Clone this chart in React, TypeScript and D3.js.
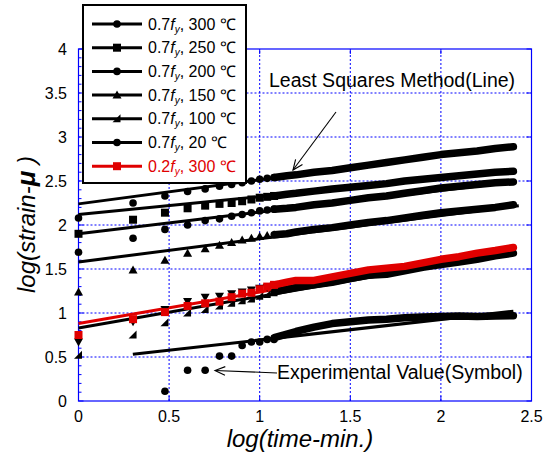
import React from 'react';
import * as d3 from 'd3';

// time (minutes) of the individually visible early readings
const earlyTimes = [1, 2, 3, 4, 5, 6, 7, 8, 9, 10, 11, 12];
// log(time) positions where the dense readings merge into a band
const bandLogT = [1.08, 1.15, 1.2, 1.3, 1.4, 1.5, 1.6, 1.7, 1.8, 1.9, 2.0, 2.1, 2.2, 2.3, 2.4];

const s300Early = [2.08, 2.25, 2.33, 2.38, 2.41, 2.44, 2.46, 2.48, 2.5, 2.52, 2.53, 2.54];
const s300Band = [2.54, 2.56, 2.57, 2.6, 2.62, 2.65, 2.68, 2.71, 2.74, 2.77, 2.8, 2.82, 2.84, 2.87, 2.89];
const s300Fit = [[0, 2.24], [2.4, 2.9]];

const s250Early = [1.9, 2.06, 2.14, 2.19, 2.22, 2.24, 2.25, 2.27, 2.29, 2.31, 2.32, 2.33];
const s250Band = [2.33, 2.35, 2.36, 2.385, 2.41, 2.43, 2.45, 2.47, 2.5, 2.52, 2.54, 2.56, 2.58, 2.6, 2.61];
const s250Fit = [[0, 2.12], [2.42, 2.61]];

const s200Early = [1.69, 1.85, 1.95, 2.0, 2.05, 2.07, 2.1, 2.12, 2.14, 2.16, 2.17, 2.18];
const s200Band = [2.18, 2.19, 2.2, 2.23, 2.25, 2.28, 2.31, 2.33, 2.36, 2.39, 2.42, 2.44, 2.46, 2.48, 2.49];
const s200Fit = [[0, 1.9], [2.4, 2.49]];

const s150Early = [1.24, 1.49, 1.6, 1.68, 1.73, 1.77, 1.8, 1.83, 1.85, 1.87, 1.88, 1.89];
const s150Band = [1.89, 1.9, 1.92, 1.95, 1.97, 2.0, 2.03, 2.05, 2.08, 2.11, 2.14, 2.16, 2.18, 2.2, 2.23];
const s150Fit = [[0, 1.58], [2.43, 2.22]];

const s100Early = [0.52, 0.75, 0.89, 1.0, 1.04, 1.08, 1.11, 1.14, 1.16, 1.19, 1.21, 1.23];
const s100Band = [1.24, 1.27, 1.29, 1.32, 1.35, 1.39, 1.43, 1.44, 1.48, 1.52, 1.55, 1.58, 1.61, 1.65, 1.68];
const s100Fit = [[0, 0.83], [2.4, 1.69]];

const s100bEarly = [0.67, 0.9, 1.04, 1.13, 1.18, 1.19, 1.22, 1.24, 1.26, 1.28, 1.29, 1.31];

const s20Early = [null, null, 0.11, 0.35, 0.35, 0.51, 0.51, 0.63, 0.67, 0.67, 0.7, 0.7];
const s20Band = [0.72, 0.76, 0.79, 0.84, 0.88, 0.9, 0.92, 0.93, 0.945, 0.955, 0.96, 0.965, 0.96, 0.965, 0.97];
const s20Fit = [[0.3, 0.53], [2.4, 1.02]];

const sRedEarly = [0.75, 0.93, 1.01, 1.08, 1.11, 1.13, 1.18, 1.22, 1.23, 1.27, 1.3, 1.32];
const sRedBand = [1.32, 1.35, 1.37, 1.37, 1.41, 1.45, 1.49, 1.51, 1.53, 1.57, 1.61, 1.64, 1.68, 1.71, 1.745];
const sRedFit = [[0, 0.88], [2.4, 1.74]];

const xTicks = [0, 0.5, 1, 1.5, 2, 2.5];
const yTicks = [0, 0.5, 1, 1.5, 2, 2.5, 3, 3.5, 4];

const series = [
  { factor: '0.7', temp: '300', color: '#000', marker: 'circle', early: s300Early, band: s300Band, fit: s300Fit },
  { factor: '0.7', temp: '250', color: '#000', marker: 'square', early: s250Early, band: s250Band, fit: s250Fit },
  { factor: '0.7', temp: '200', color: '#000', marker: 'circle', early: s200Early, band: s200Band, fit: s200Fit },
  { factor: '0.7', temp: '150', color: '#000', marker: 'triangle', early: s150Early, band: s150Band, fit: s150Fit },
  { factor: '0.7', temp: '100', color: '#000', marker: 'wedge', early: s100Early, band: s100Band, fit: s100Fit },
  { factor: '0.7', temp: '20', color: '#000', marker: 'circle', early: s20Early, band: s20Band, fit: s20Fit },
  { factor: '0.2', temp: '300', color: '#e00000', marker: 'square', early: sRedEarly, band: sRedBand, fit: sRedFit },
];

const FONT = '"Liberation Sans", Arial, sans-serif';
const BLUE = '#0000ff';

function Marker({ shape, cx, cy, color }) {
  if (shape === 'circle') return <circle cx={cx} cy={cy} r={3.8} fill={color} />;
  if (shape === 'square') return <rect x={cx - 4} y={cy - 4} width={8} height={8} fill={color} />;
  if (shape === 'triangle')
    return <path d={`M${cx},${cy - 4.5}L${cx + 4.5},${cy + 3.5}L${cx - 4.5},${cy + 3.5}Z`} fill={color} />;
  if (shape === 'wedge')
    return <path d={`M${cx - 4.5},${cy + 3.5}L${cx + 3.5},${cy + 3.5}L${cx + 3.5},${cy - 4.5}Z`} fill={color} />;
  if (shape === 'down')
    return <path d={`M${cx - 4.5},${cy - 3.5}L${cx + 4.5},${cy - 3.5}L${cx},${cy + 4.5}Z`} fill={color} />;
  return null;
}

function Arrow({ x1, y1, x2, y2 }) {
  const ang = Math.atan2(y2 - y1, x2 - x1);
  const L = 11, a = 0.4;
  const p1 = [x2 - L * Math.cos(ang - a), y2 - L * Math.sin(ang - a)];
  const p2 = [x2 - L * Math.cos(ang + a), y2 - L * Math.sin(ang + a)];
  return (
    <g stroke="#000" strokeWidth={1.1} fill="none">
      <line x1={x1} y1={y1} x2={x2} y2={y2} />
      <path d={`M${p1[0]},${p1[1]}L${x2},${y2}L${p2[0]},${p2[1]}`} />
    </g>
  );
}

export default function App() {
  const W = 551, H = 452;
  const x = d3.scaleLinear().domain([0, 2.5]).range([78.5, 531.5]);
  const y = d3.scaleLinear().domain([0, 4]).range([401, 49]);
  const line = d3.line<number[]>().x((d) => x(d[0])).y((d) => y(d[1]));
  const minorY = d3.range(0, 40).map((i) => i / 10).filter((v) => Math.round(v * 10) % 5 !== 0);

  return (
    <svg width={W} height={H} style={{ position: 'absolute', left: 0, top: 0, background: '#fff' }} fontFamily={FONT}>
      <rect width={W} height={H} fill="#fff" />
      {/* grid */}
      {xTicks.slice(1, -1).map((t) => (
        <line key={'gx' + t} x1={x(t)} x2={x(t)} y1={y(0)} y2={y(4)} stroke={BLUE} strokeWidth={1} strokeDasharray="2,2" />
      ))}
      {yTicks.slice(1, -1).map((t) => (
        <line key={'gy' + t} x1={x(0)} x2={x(2.5)} y1={y(t)} y2={y(t)} stroke={BLUE} strokeWidth={1} strokeDasharray="2,2" />
      ))}
      <rect x={x(0)} y={y(4)} width={x(2.5) - x(0)} height={y(0) - y(4)} fill="none" stroke={BLUE} strokeWidth={1.2} />
      {/* ticks */}
      {xTicks.map((t) => (
        <g key={'tx' + t}>
          <line x1={x(t)} x2={x(t)} y1={y(0)} y2={y(0) - 5} stroke={BLUE} />
          <line x1={x(t)} x2={x(t)} y1={y(4)} y2={y(4) + 5} stroke={BLUE} />
          <text x={x(t)} y={422} textAnchor="middle" fontSize={16} fill="#000">{t}</text>
        </g>
      ))}
      {yTicks.map((t) => (
        <g key={'ty' + t}>
          <line x1={x(0)} x2={x(0) + 5} y1={y(t)} y2={y(t)} stroke={BLUE} />
          <line x1={x(2.5)} x2={x(2.5) - 5} y1={y(t)} y2={y(t)} stroke={BLUE} />
          <text x={67} y={y(t)} dy="0.36em" textAnchor="end" fontSize={16} fill="#000">{t}</text>
        </g>
      ))}
      {minorY.map((t) => (
        <line key={'my' + t} x1={x(0)} x2={x(0) + 3} y1={y(t)} y2={y(t)} stroke={BLUE} />
      ))}
      {/* least squares lines */}
      {series.map((s, i) => (
        <path key={'fit' + i} d={line(s.fit) || ''} stroke={s.color} strokeWidth={3} fill="none" />
      ))}
      {/* experimental values */}
      {series.map((s, i) => {
        const bandPts = bandLogT.map((lt, j) => [lt, s.band[j]]);
        return (
          <g key={'ser' + i}>
            <path d={line(bandPts) || ''} stroke={s.color} strokeWidth={7.5} fill="none" strokeLinecap="round" strokeLinejoin="round" />
            {earlyTimes.map((t, j) =>
              s.early[j] == null ? null : (
                <Marker key={j} shape={s.marker} cx={x(Math.log10(t))} cy={y(s.early[j])} color={s.color} />
              )
            )}
            {i === 4 &&
              earlyTimes.map((t, j) => (
                <Marker key={'b' + j} shape="down" cx={x(Math.log10(t))} cy={y(s100bEarly[j])} color="#000" />
              ))}
          </g>
        );
      })}
      {/* annotations */}
      <text x={269} y={87} fontSize={19.5} fill="#000">Least Squares Method(Line)</text>
      <Arrow x1={336} y1={112} x2={293} y2={170} />
      <text x={277} y={378.5} fontSize={19.5} fill="#000">Experimental Value(Symbol)</text>
      <Arrow x1={277} y1={373} x2={215} y2={370.5} />
      {/* axis titles */}
      <text x={300} y={447} textAnchor="middle" fontSize={24} fontStyle="italic" fill="#000">log(time-min.)</text>
      <text transform="translate(35,224.5) rotate(-90)" textAnchor="middle" fontSize={24} fontStyle="italic" fill="#000">
        log(strain-<tspan fontWeight="bold" fontSize={26}>μ</tspan> )
      </text>
      {/* legend */}
      <rect x={83} y={5} width={163} height={178} fill="#fff" stroke="#000" strokeWidth={2} />
      {series.map((s, i) => {
        const cy = 24 + i * 23.7;
        return (
          <g key={'lg' + i}>
            <line x1={92} x2={142} y1={cy} y2={cy} stroke={s.color} strokeWidth={3} />
            <Marker shape={s.marker} cx={117} cy={cy} color={s.color} />
            <text x={148} y={cy + 5.5} fontSize={16} fill={s.color}>
              {s.factor}
              <tspan fontStyle="italic">f</tspan>
              <tspan fontSize={10} fontStyle="italic" dy={3}>y</tspan>
              <tspan dy={-3}>, {s.temp} ℃</tspan>
            </text>
          </g>
        );
      })}
    </svg>
  );
}
